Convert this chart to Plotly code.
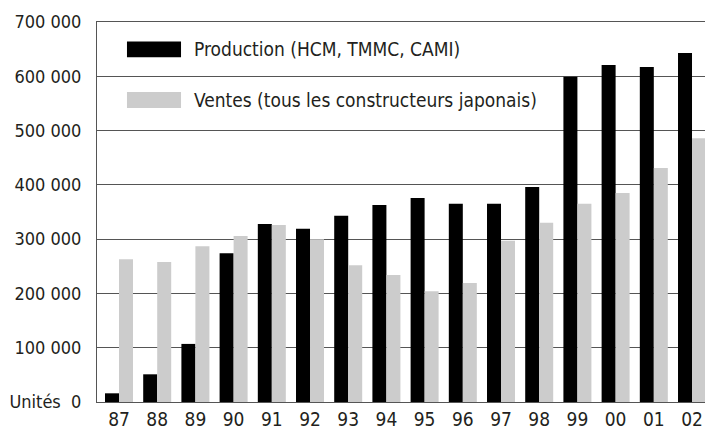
import plotly.graph_objects as go

# Data
years = ["87", "88", "89", "90", "91", "92", "93", "94", "95", "96", "97", "98", "99", "00", "01", "02"]
production = [16000, 51000, 107000, 274000, 328000, 319000, 343000, 363000, 376000, 365000, 365000, 396000, 599000, 621000, 617000, 643000]
ventes = [263000, 258000, 287000, 306000, 326000, 300000, 252000, 234000, 204000, 219000, 297000, 330000, 365000, 385000, 431000, 486000]

y_ticks = [0, 100000, 200000, 300000, 400000, 500000, 600000, 700000]
y_labels = ["Unités  0", "100 000", "200 000", "300 000", "400 000", "500 000", "600 000", "700 000"]

font_family = "Liberation Sans Narrow, DejaVu Sans Condensed, Arial Narrow, sans-serif"
text_color = "#231f20"

fig = go.Figure()

fig.add_trace(go.Bar(
    x=years, y=production, name="Production (HCM, TMMC, CAMI)",
    marker=dict(color="#000000", line_width=0), showlegend=False,
))
fig.add_trace(go.Bar(
    x=years, y=ventes, name="Ventes (tous les constructeurs japonais)",
    marker=dict(color="#cccccc", line_width=0), showlegend=False,
))

# Legend drawn by hand to get the wide swatches
legend_items = [
    ("Production (HCM, TMMC, CAMI)", "#000000", 0.928),
    ("Ventes (tous les constructeurs japonais)", "#cccccc", 0.795),
]
for label, color, ypos in legend_items:
    fig.add_shape(
        type="rect", xref="paper", yref="paper",
        x0=0.0493, x1=0.1382, y0=ypos - 0.021, y1=ypos + 0.021,
        fillcolor=color, line_width=0,
    )
    fig.add_annotation(
        x=0.156, y=ypos, xref="paper", yref="paper", text=label,
        showarrow=False, xanchor="left", yanchor="middle",
        font=dict(size=19, color=text_color, family=font_family),
    )

fig.update_layout(
    width=705, height=429,
    margin=dict(l=97, r=0, t=22, b=27),
    paper_bgcolor="white", plot_bgcolor="white",
    barmode="group", bargap=0.267, bargroupgap=0,
    font=dict(family=font_family, color=text_color, size=19),
    xaxis=dict(
        type="category", range=[-0.576, 15.34], automargin=False,
        showgrid=False, showline=True, mirror=True, linecolor="#555555", linewidth=1,
        ticks="", tickfont=dict(size=19), ticklabelstandoff=0,
    ),
    yaxis=dict(
        range=[0, 700000], tickvals=y_ticks, ticktext=y_labels, automargin=False,
        showgrid=True, gridcolor="#555555", gridwidth=1,
        zeroline=False, showline=True, linecolor="#555555", linewidth=1,
        ticks="", tickfont=dict(size=18), ticklabelstandoff=11,
    ),
)

# drop the default page margin so the figure fills the window exactly
fig.write_html(
    "out.html",
    config={"displayModeBar": False},
    post_script="document.body.style.margin='0';document.body.style.overflow='hidden';",
)
